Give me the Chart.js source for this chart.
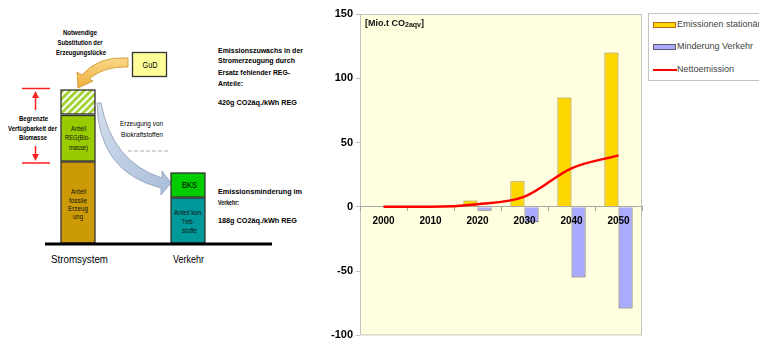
<!DOCTYPE html>
<html>
<head>
<meta charset="utf-8">
<script src="https://cdn.jsdelivr.net/npm/chart.js@4/dist/chart.umd.min.js"></script>
<style>
  html, body { margin: 0; padding: 0; background: #fff; width: 759px; height: 338px; overflow: hidden; position: relative; font-family: "Liberation Sans", Arial, sans-serif; }
  #schema { position: absolute; left: 0; top: 0; }
  #chartBox { position: absolute; left: 320px; top: 0; width: 439px; height: 345px; }
  #legend { position: absolute; left: 648px; top: 13px; width: 130px; height: 66px; border: 1px solid #c4c4c4; background: #fff; font: 9px "Liberation Sans", Arial, sans-serif; color: #444; }
  .lg-item { position: absolute; left: 4px; height: 10px; white-space: nowrap; }
  .lg-sw { position: absolute; left: 0; top: 2px; width: 21px; height: 4px; box-sizing: content-box; }
  .lg-line { position: absolute; left: 0; top: 4px; width: 24px; height: 2px; }
  .lg-tx { position: absolute; left: 24px; top: -1px; letter-spacing: 0; }
</style>
</head>
<body>

<svg id="schema" width="320" height="338" viewBox="0 0 320 338" xmlns="http://www.w3.org/2000/svg" font-family="Liberation Sans, Arial, sans-serif" fill="#000">
  <defs>
    <pattern id="hatch" patternUnits="userSpaceOnUse" width="5" height="5" patternTransform="rotate(45)">
      <rect width="5" height="5" fill="#a6d23a"/>
      <rect width="2" height="5" fill="#ffffff"/>
    </pattern>
    <linearGradient id="orangeGrad" x1="0" y1="0" x2="0" y2="1">
      <stop offset="0" stop-color="#fbd88a"/>
      <stop offset="1" stop-color="#efae3c"/>
    </linearGradient>
    <linearGradient id="blueGrad" x1="0" y1="0" x2="1" y2="1">
      <stop offset="0" stop-color="#d3deee"/>
      <stop offset="1" stop-color="#a9bdd8"/>
    </linearGradient>
  </defs>

  <!-- heading above the generation column -->
  <g font-size="7.5" font-weight="bold" text-anchor="middle" dominant-baseline="central">
    <text x="80" y="32" textLength="34" lengthAdjust="spacingAndGlyphs">Notwendige</text>
    <text x="80" y="42" textLength="45" lengthAdjust="spacingAndGlyphs">Substitution der</text>
    <text x="81" y="52" textLength="50" lengthAdjust="spacingAndGlyphs">Erzeugungslücke</text>
  </g>

  <!-- GuD box -->
  <rect x="132.5" y="52.5" width="34" height="24" fill="#ffff99" stroke="#333" stroke-width="1.3"/>
  <text x="150" y="65" font-size="9" text-anchor="middle" dominant-baseline="central" textLength="15" lengthAdjust="spacingAndGlyphs">GuD</text>

  <!-- orange arrow from GuD to the missing share -->
  <path d="M 128 58 Q 98 56 82 75 L 77 72 L 78 88 L 93 81 L 89 79 Q 104 66 128 67 Z" fill="url(#orangeGrad)" stroke="#c99428" stroke-width="0.8"/>

  <!-- limited biomass marker -->
  <g stroke="#ff2020" stroke-width="1.5" fill="none">
    <line x1="22" y1="88.5" x2="50" y2="88.5"/>
    <line x1="22" y1="163" x2="50" y2="163"/>
    <line x1="35.5" y1="97" x2="35.5" y2="110"/>
    <line x1="35.5" y1="146" x2="35.5" y2="155"/>
  </g>
  <path d="M 35.5 91 L 32 98 L 39 98 Z" fill="#ff2020"/>
  <path d="M 35.5 161 L 32 154 L 39 154 Z" fill="#ff2020"/>
  <g font-size="7" font-weight="bold" text-anchor="middle" dominant-baseline="central">
    <text x="33.5" y="118" textLength="29" lengthAdjust="spacingAndGlyphs">Begrenzte</text>
    <text x="32.5" y="128" textLength="49" lengthAdjust="spacingAndGlyphs">Verfügbarkeit der</text>
    <text x="33" y="137" textLength="28" lengthAdjust="spacingAndGlyphs">Biomasse</text>
  </g>

  <!-- Stromsystem column -->
  <rect x="61" y="90" width="34" height="24" fill="url(#hatch)" stroke="#333" stroke-width="1.3"/>
  <rect x="61" y="115.5" width="34" height="45.5" fill="#99cc00" stroke="#333" stroke-width="1.3"/>
  <rect x="61" y="162" width="34" height="81" fill="#cc9a06" stroke="#333" stroke-width="1.3"/>
  <g font-size="6.5" text-anchor="middle" dominant-baseline="central" fill="#111">
    <text x="78.5" y="128" textLength="15" lengthAdjust="spacingAndGlyphs">Anteil</text>
    <text x="77.5" y="137.5" textLength="25" lengthAdjust="spacingAndGlyphs">REG(Bio-</text>
    <text x="78.5" y="147" textLength="19" lengthAdjust="spacingAndGlyphs">masse)</text>
    <text x="78.5" y="191" textLength="15" lengthAdjust="spacingAndGlyphs">Anteil</text>
    <text x="78" y="200" textLength="18" lengthAdjust="spacingAndGlyphs">fossile</text>
    <text x="78" y="208.5" textLength="20" lengthAdjust="spacingAndGlyphs">Erzeug</text>
    <text x="78" y="216.5" textLength="10" lengthAdjust="spacingAndGlyphs">ung</text>
  </g>

  <!-- blue arrow: biofuel production -->
  <path d="M 97 103 Q 98 172 161 188 L 161 195 L 171 183 L 162 171 L 162 178 Q 112 162 101 103 Z" fill="url(#blueGrad)" stroke="#8d9db2" stroke-width="0.8"/>
  <g font-size="6.5" dominant-baseline="central">
    <text x="120" y="123" textLength="43" lengthAdjust="spacingAndGlyphs">Erzeugung von</text>
    <text x="121" y="134" textLength="42" lengthAdjust="spacingAndGlyphs">Biokraftstoffen</text>
  </g>
  <line x1="128" y1="151" x2="170" y2="151" stroke="#9a9a9a" stroke-width="0.8" stroke-dasharray="4 2"/>

  <!-- Verkehr column -->
  <rect x="171" y="173" width="34" height="24" fill="#00cc00" stroke="#333" stroke-width="1.3"/>
  <rect x="171" y="198" width="34" height="45" fill="#009999" stroke="#333" stroke-width="1.3"/>
  <text x="189.5" y="185" font-size="8.5" text-anchor="middle" dominant-baseline="central" textLength="15" lengthAdjust="spacingAndGlyphs">BKS</text>
  <g font-size="6.5" text-anchor="middle" dominant-baseline="central" fill="#111">
    <text x="188.5" y="212" textLength="29" lengthAdjust="spacingAndGlyphs">Anteil kon.</text>
    <text x="188" y="221" textLength="12" lengthAdjust="spacingAndGlyphs">Treib-</text>
    <text x="189.5" y="230" textLength="15" lengthAdjust="spacingAndGlyphs">stoffe</text>
  </g>

  <!-- base line and column captions -->
  <line x1="45" y1="244" x2="272" y2="244" stroke="#000" stroke-width="3"/>
  <g font-size="11" dominant-baseline="central">
    <text x="51" y="259" textLength="57" lengthAdjust="spacingAndGlyphs">Stromsystem</text>
    <text x="173" y="259" textLength="31" lengthAdjust="spacingAndGlyphs">Verkehr</text>
  </g>

  <!-- emission notes -->
  <g font-size="8" font-weight="bold" dominant-baseline="central">
    <text x="218" y="50" textLength="85" lengthAdjust="spacingAndGlyphs">Emissionszuwachs in der</text>
    <text x="218" y="60.5" textLength="77" lengthAdjust="spacingAndGlyphs">Stromerzeugung durch</text>
    <text x="218" y="72" textLength="72" lengthAdjust="spacingAndGlyphs">Ersatz fehlender REG-</text>
    <text x="218" y="83" textLength="25" lengthAdjust="spacingAndGlyphs">Anteile:</text>
    <text x="218" y="102" textLength="79" lengthAdjust="spacingAndGlyphs">420g CO2äq./kWh REG</text>
    <text x="218" y="191" textLength="84" lengthAdjust="spacingAndGlyphs">Emissionsminderung im</text>
    <text x="218" y="202" textLength="21" lengthAdjust="spacingAndGlyphs">Verkehr:</text>
    <text x="218" y="220" textLength="79" lengthAdjust="spacingAndGlyphs">188g CO2äq./kWh REG</text>
  </g>
</svg>

<div id="chartBox"><canvas id="chart" width="439" height="345"></canvas></div>
<div id="legend"></div>

<script>
// Years on the category axis
const years = ['2000', '2010', '2020', '2030', '2040', '2050'];
// Additional emissions from stationary generation [Mio. t CO2-eq]
const emissionenStationaer = [0, 0, 5, 20, 85, 120];
// Reduction in transport [Mio. t CO2-eq]
const minderungVerkehr = [0, 0, -3, -12, -55, -79];
// Net emission [Mio. t CO2-eq]
const nettoemission = [0, 0, 2, 8, 30, 40];
// Value-axis ticks
const yTicks = [-100, -50, 0, 50, 100, 150];

const seriesNames = ['Emissionen stationär', 'Minderung Verkehr', 'Nettoemission'];

const plotFrame = {
  id: 'plotFrame',
  beforeDraw(chart) {
    const { ctx, chartArea: a } = chart;
    ctx.save();
    ctx.fillStyle = '#ffffe0';
    ctx.fillRect(a.left, a.top, a.right - a.left, a.bottom - a.top);
    ctx.strokeStyle = '#c2c2c2';
    ctx.lineWidth = 1;
    ctx.strokeRect(a.left + 0.5, a.top + 0.5, a.right - a.left - 1, a.bottom - a.top - 1);
    ctx.restore();
  },
  afterDatasetsDraw(chart) {
    const { ctx, chartArea: a } = chart;
    ctx.save();
    ctx.fillStyle = '#111';
    ctx.textBaseline = 'middle';
    let x = a.left + 5;
    const y = a.top + 10;
    ctx.font = 'bold 9px "Liberation Sans", Arial, sans-serif';
    ctx.fillText('[Mio.t CO', x, y);
    x += ctx.measureText('[Mio.t CO').width;
    ctx.font = 'bold 7px "Liberation Sans", Arial, sans-serif';
    ctx.fillText('2aqv', x, y + 1);
    x += ctx.measureText('2aqv').width;
    ctx.font = 'bold 9px "Liberation Sans", Arial, sans-serif';
    ctx.fillText(']', x, y);
    ctx.restore();
  }
};

const xTickFont = { family: '"Liberation Sans", Arial, sans-serif', size: 10, weight: 'bold' };
const yTickFont = { family: '"Liberation Sans", Arial, sans-serif', size: 11, weight: 'bold' };

const chart = new Chart(document.getElementById('chart'), {
  data: {
    labels: years,
    datasets: [
      {
        type: 'bar', label: seriesNames[0], data: emissionenStationaer,
        backgroundColor: '#ffd700', borderColor: '#9c8420', borderWidth: 1, order: 1
      },
      {
        type: 'bar', label: seriesNames[1], data: minderungVerkehr,
        backgroundColor: '#aaaaff', borderColor: '#5a5a6a', borderWidth: 1, order: 1
      },
      {
        type: 'line', label: seriesNames[2], data: nettoemission,
        borderColor: '#ff0000', borderWidth: 2.5, pointRadius: 0, fill: false,
        cubicInterpolationMode: 'monotone', order: 0
      }
    ]
  },
  options: {
    responsive: false,
    animation: false,
    devicePixelRatio: 1,
    layout: { padding: { top: 14, right: 117, bottom: 0, left: 0 } },
    datasets: { bar: { categoryPercentage: 0.6, barPercentage: 1.0 } },
    plugins: { legend: { display: false }, tooltip: { enabled: false } },
    scales: {
      x: {
        type: 'category',
        position: { y: 0 },
        offset: true,
        grid: { display: true, drawOnChartArea: false, drawTicks: true, tickLength: 4, color: '#a0a0a0', offset: true },
        border: { display: true, color: '#a8a8a8', width: 1 },
        ticks: { color: '#000', font: xTickFont, padding: 4, maxRotation: 0, autoSkip: false, z: 1 }
      },
      y: {
        type: 'linear',
        min: yTicks[0], max: yTicks[yTicks.length - 1],
        afterBuildTicks(scale) { scale.ticks = yTicks.map(v => ({ value: v })); },
        afterFit(scale) { scale.width = 40; },
        grid: { display: true, drawOnChartArea: false, drawTicks: true, tickLength: 4, color: '#c0c0c0' },
        border: { display: false },
        ticks: { color: '#000', font: yTickFont, padding: 3 }
      }
    }
  },
  plugins: [plotFrame]
});

// Legend built from the datasets
const legend = document.getElementById('legend');
const tops = [6, 28, 51];
chart.data.datasets.forEach((ds, i) => {
  const item = document.createElement('div');
  item.className = 'lg-item';
  item.style.top = tops[i] + 'px';
  const sw = document.createElement('div');
  if (ds.type === 'line') {
    sw.className = 'lg-line';
    sw.style.background = ds.borderColor;
  } else {
    sw.className = 'lg-sw';
    sw.style.background = ds.backgroundColor;
    sw.style.border = '1px solid ' + (i === 0 ? '#c06a20' : '#5a5a6a');
  }
  const tx = document.createElement('span');
  tx.className = 'lg-tx';
  tx.textContent = ds.label;
  item.appendChild(sw);
  item.appendChild(tx);
  legend.appendChild(item);
});
</script>
</body>
</html>
